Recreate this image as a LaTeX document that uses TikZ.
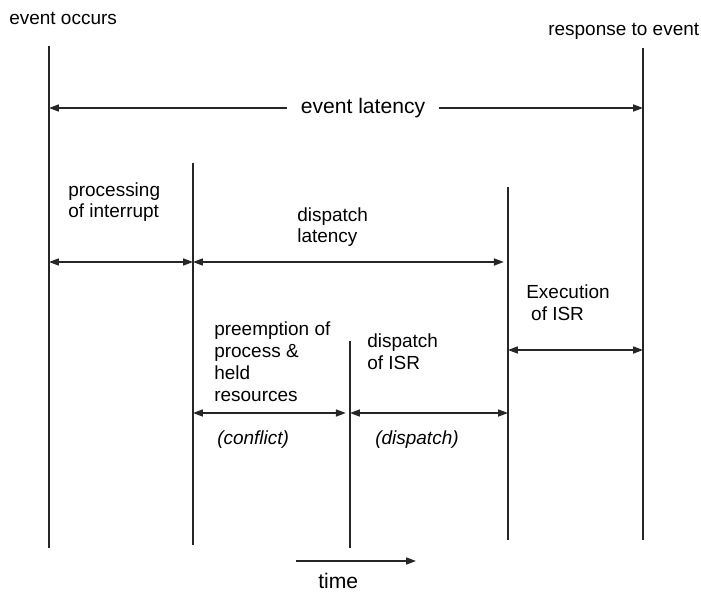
\documentclass[tikz,border=0pt]{standalone}
\usepackage{fontspec}
\setmainfont{Liberation Sans}
\usetikzlibrary{arrows.meta,positioning}
\tikzset{
  stroke/.style={line width=1pt,draw=black!85},
  tip/.style={-{Triangle[length=7pt,width=5pt]}},
  span/.style={stroke,{Triangle[length=7pt,width=5pt]}-{Triangle[length=7pt,width=5pt]}},
  txt/.style={inner sep=0pt,align=left,anchor=base west,font=\fontsize{13.5}{15.6}\selectfont},
  big/.style={font=\fontsize{15}{18}\selectfont},
}

\begin{document}
\begin{tikzpicture}[x=0.025cm,y=-0.025cm]
\useasboundingbox (0,0) rectangle (701,596);
% \draw[help lines,step=50] (0,0) grid (701,596);
% time marks
\coordinate (t0) at (49,46);  \coordinate (b0) at (49,548);
\coordinate (t1) at (193,163); \coordinate (b1) at (193,545);
\coordinate (t2) at (350,341); \coordinate (b2) at (350,548);
\coordinate (t3) at (508,187); \coordinate (b3) at (508,540);
\coordinate (t4) at (643,48);  \coordinate (b4) at (643,540);
\foreach \i in {0,...,4}
  \draw[stroke] (t\i) -- (b\i);
% heights of the spans
\coordinate (rlat) at (0,108);
\coordinate (rdisp) at (0,262);
\coordinate (rexec) at (0,350);
\coordinate (rpre) at (0,413);
% multi-line labels sit on their last baseline
\node[txt] (occurs) at (9,25) {event occurs};
\node[txt] (response) at (548,36) {response to event};
\draw[span] (t0 |- rlat) -- (t4 |- rlat);
\node[txt,big,anchor=base,fill=white,inner xsep=10pt] (lat) at (363,114) {event latency};
%
\node[txt] (proc) at (68,218) {processing\\of interrupt};
\draw[span] (t0 |- rdisp) -- (t1 |- rdisp);
\node[txt] (dlat) at (297,243) {dispatch\\latency};
\draw[span,shorten >=3pt] (t1 |- rdisp) -- (t3 |- rdisp);
%
\node[txt] (exec) at (526,320) {Execution\\\hspace*{3.5pt}of ISR};
\draw[span] (t3 |- rexec) -- (t4 |- rexec);
%
\node[txt] (pre) at (214,401) {preemption of\\process \&\\held\\resources};
\draw[span,shorten >=3pt] (t1 |- rpre) -- (t2 |- rpre);
\node[txt] (disp) at (367,369) {dispatch\\of ISR};
\draw[span] (t2 |- rpre) -- (t3 |- rpre);
\node[txt,font=\fontsize{13.5}{15.6}\selectfont\itshape] (conflict) at (217,444) {(conflict)};
\node[txt,font=\fontsize{13.5}{15.6}\selectfont\itshape] (dispatch) at (375,444) {(dispatch)};
%
\coordinate (tstart) at (296,561);
\coordinate (tend) at (416,561);
\draw[stroke,tip] (tstart) -- (tend);
\node[txt,big] (time) at (318,588) {time};
\end{tikzpicture}
\end{document}
